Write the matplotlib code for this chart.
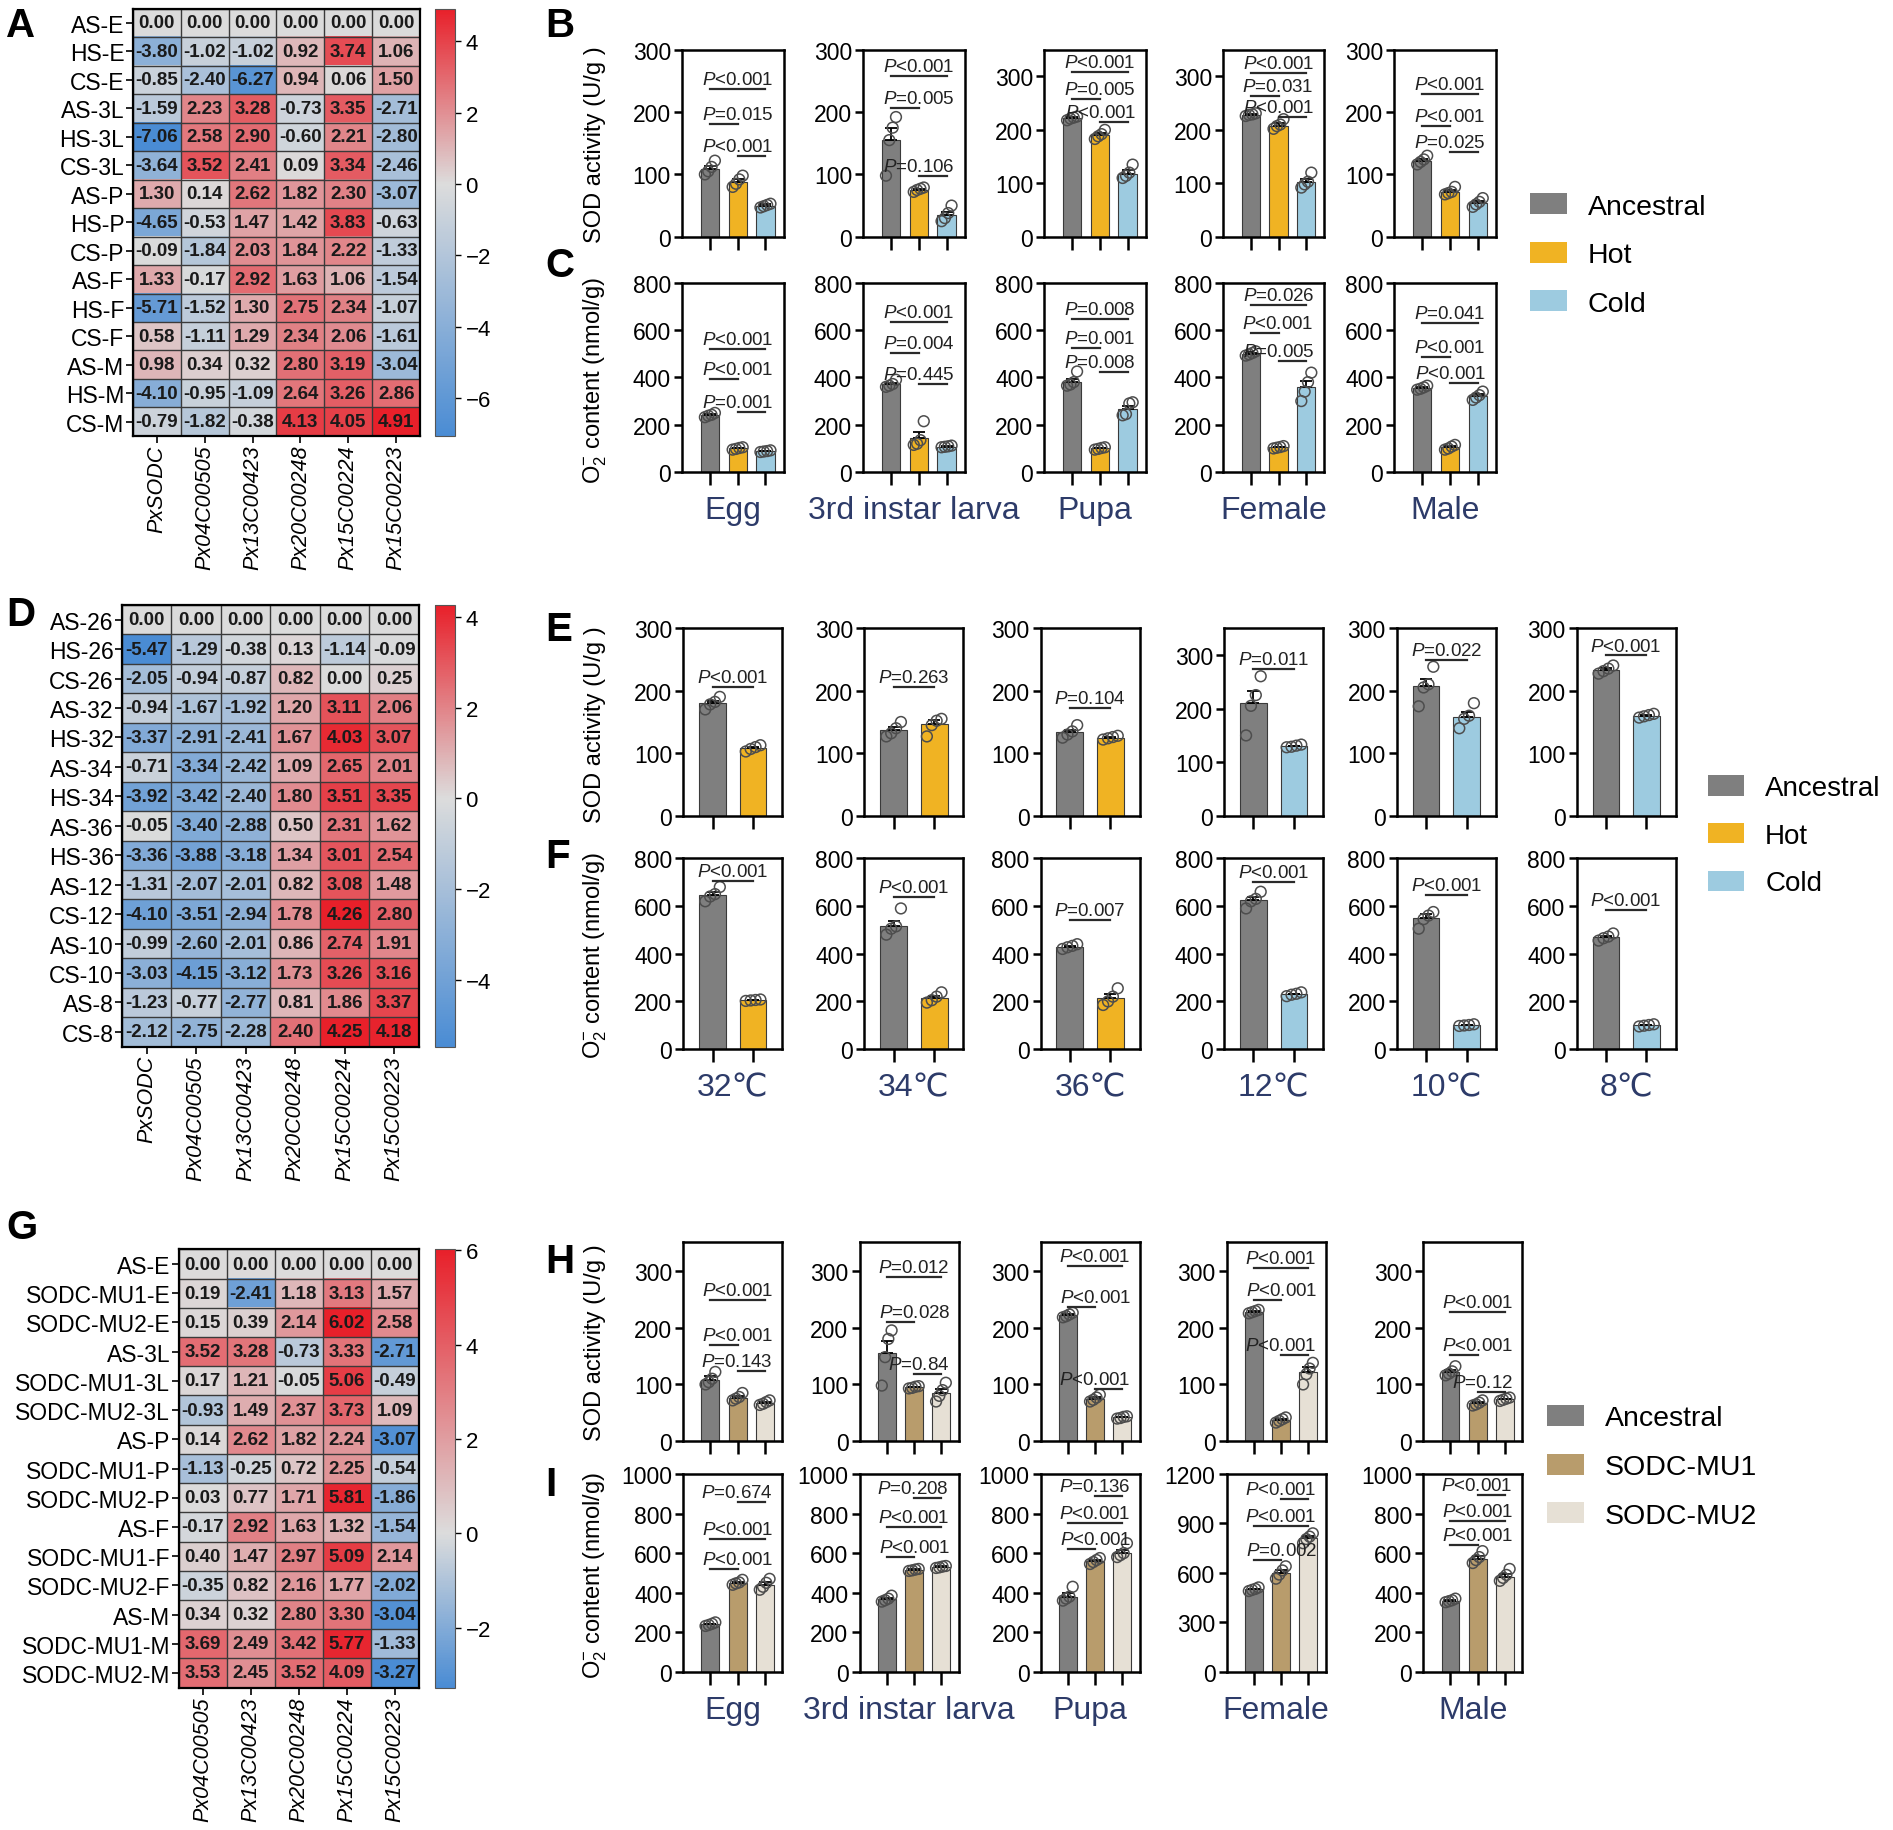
import numpy as np
import matplotlib
matplotlib.use("Agg")
import matplotlib.pyplot as plt
from matplotlib.colors import LinearSegmentedColormap
from matplotlib.patches import Patch

plt.rcParams.update({
    "font.family": ["Liberation Sans", "DejaVu Sans", "Noto Sans CJK SC"],
    "mathtext.fontset": "custom",
    "mathtext.rm": "Liberation Sans",
    "mathtext.it": "Liberation Sans:italic",
    "axes.linewidth": 1.8,
    "xtick.major.width": 1.8,
    "ytick.major.width": 1.8,
})

ANC = "#7f7f7f"
HOT = "#f0b323"
COLD = "#9dcbe0"
MU1 = "#b89c6c"
MU2 = "#e6e0d5"
NAVY = "#2d3b69"
BLUE, MID, RED = "#4a8cd4", "#dcdcdc", "#e8202a"

# ---------------- heatmap data ----------------
genes6 = ["PxSODC", "Px04C00505", "Px13C00423", "Px20C00248", "Px15C00224", "Px15C00223"]
genes5 = genes6[1:]

rows_A = ["AS-E", "HS-E", "CS-E", "AS-3L", "HS-3L", "CS-3L", "AS-P", "HS-P", "CS-P",
          "AS-F", "HS-F", "CS-F", "AS-M", "HS-M", "CS-M"]
vals_A = [
    [0.00, 0.00, 0.00, 0.00, 0.00, 0.00],
    [-3.80, -1.02, -1.02, 0.92, 3.74, 1.06],
    [-0.85, -2.40, -6.27, 0.94, 0.06, 1.50],
    [-1.59, 2.23, 3.28, -0.73, 3.35, -2.71],
    [-7.06, 2.58, 2.90, -0.60, 2.21, -2.80],
    [-3.64, 3.52, 2.41, 0.09, 3.34, -2.46],
    [1.30, 0.14, 2.62, 1.82, 2.30, -3.07],
    [-4.65, -0.53, 1.47, 1.42, 3.83, -0.63],
    [-0.09, -1.84, 2.03, 1.84, 2.22, -1.33],
    [1.33, -0.17, 2.92, 1.63, 1.06, -1.54],
    [-5.71, -1.52, 1.30, 2.75, 2.34, -1.07],
    [0.58, -1.11, 1.29, 2.34, 2.06, -1.61],
    [0.98, 0.34, 0.32, 2.80, 3.19, -3.04],
    [-4.10, -0.95, -1.09, 2.64, 3.26, 2.86],
    [-0.79, -1.82, -0.38, 4.13, 4.05, 4.91],
]

rows_D = ["AS-26", "HS-26", "CS-26", "AS-32", "HS-32", "AS-34", "HS-34", "AS-36", "HS-36",
          "AS-12", "CS-12", "AS-10", "CS-10", "AS-8", "CS-8"]
vals_D = [
    [0.00, 0.00, 0.00, 0.00, 0.00, 0.00],
    [-5.47, -1.29, -0.38, 0.13, -1.14, -0.09],
    [-2.05, -0.94, -0.87, 0.82, 0.00, 0.25],
    [-0.94, -1.67, -1.92, 1.20, 3.11, 2.06],
    [-3.37, -2.91, -2.41, 1.67, 4.03, 3.07],
    [-0.71, -3.34, -2.42, 1.09, 2.65, 2.01],
    [-3.92, -3.42, -2.40, 1.80, 3.51, 3.35],
    [-0.05, -3.40, -2.88, 0.50, 2.31, 1.62],
    [-3.36, -3.88, -3.18, 1.34, 3.01, 2.54],
    [-1.31, -2.07, -2.01, 0.82, 3.08, 1.48],
    [-4.10, -3.51, -2.94, 1.78, 4.26, 2.80],
    [-0.99, -2.60, -2.01, 0.86, 2.74, 1.91],
    [-3.03, -4.15, -3.12, 1.73, 3.26, 3.16],
    [-1.23, -0.77, -2.77, 0.81, 1.86, 3.37],
    [-2.12, -2.75, -2.28, 2.40, 4.25, 4.18],
]

rows_G = ["AS-E", "SODC-MU1-E", "SODC-MU2-E", "AS-3L", "SODC-MU1-3L", "SODC-MU2-3L",
          "AS-P", "SODC-MU1-P", "SODC-MU2-P", "AS-F", "SODC-MU1-F", "SODC-MU2-F",
          "AS-M", "SODC-MU1-M", "SODC-MU2-M"]
vals_G = [
    [0.00, 0.00, 0.00, 0.00, 0.00],
    [0.19, -2.41, 1.18, 3.13, 1.57],
    [0.15, 0.39, 2.14, 6.02, 2.58],
    [3.52, 3.28, -0.73, 3.33, -2.71],
    [0.17, 1.21, -0.05, 5.06, -0.49],
    [-0.93, 1.49, 2.37, 3.73, 1.09],
    [0.14, 2.62, 1.82, 2.24, -3.07],
    [-1.13, -0.25, 0.72, 2.25, -0.54],
    [0.03, 0.77, 1.71, 5.81, -1.86],
    [-0.17, 2.92, 1.63, 1.32, -1.54],
    [0.40, 1.47, 2.97, 5.09, 2.14],
    [-0.35, 0.82, 2.16, 1.77, -2.02],
    [0.34, 0.32, 2.80, 3.30, -3.04],
    [3.69, 2.49, 3.42, 5.77, -1.33],
    [3.53, 2.45, 3.52, 4.09, -3.27],
]
cbticks_A = [-6, -4, -2, 0, 2, 4]
cbticks_D = [-4, -2, 0, 2, 4]
cbticks_G = [-2, 0, 2, 4, 6]

# ---------------- bar data ----------------
stages = ["Egg", "3rd instar larva", "Pupa", "Female", "Male"]
temps = ["32\u2103", "34\u2103", "36\u2103", "12\u2103", "10\u2103", "8\u2103"]

# B: SOD activity, Ancestral / Hot / Cold
B_mean = [[108, 88, 50], [155, 75, 35], [222, 190, 118], [228, 208, 102], [122, 72, 54]]
B_err = [[6, 5, 2], [20, 2, 5], [2, 4, 6], [1, 4, 6], [3, 3, 3]]
B_pts = [
    [[100, 105, 112, 122], [80, 85, 92, 98], [47, 49, 51, 53]],
    [[98, 155, 175, 192], [72, 75, 77, 79], [25, 30, 38, 50]],
    [[218, 221, 223, 225], [183, 188, 192, 200], [110, 114, 120, 135]],
    [[226, 228, 229, 231], [202, 207, 210, 220], [92, 98, 103, 120]],
    [[116, 120, 124, 130], [68, 70, 72, 80], [48, 52, 56, 62]],
]
B_ymax = [300, 300, 350, 350, 300]
B_ptxt = [["P<0.001", "P=0.015", "P<0.001"], ["P<0.001", "P=0.005", "P=0.106"],
          ["P<0.001", "P=0.005", "P<0.001"], ["P<0.001", "P=0.031", "P<0.001"],
          ["P<0.001", "P<0.001", "P=0.025"]]
B_py = [[237, 181, 130], [258, 206, 98], [309, 258, 214], [307, 263, 224], [229, 178, 136]]

# C: O2- content, Ancestral / Hot / Cold
C_mean = [[240, 100, 88], [370, 146, 108], [380, 100, 265], [500, 105, 360], [355, 105, 320]]
C_err = [[5, 3, 2], [8, 22, 2], [15, 3, 15], [5, 2, 25], [4, 4, 8]]
C_pts = [
    [[232, 238, 242, 250], [95, 98, 102, 105], [85, 87, 89, 92]],
    [[360, 365, 372, 390], [115, 120, 135, 215], [105, 107, 109, 112]],
    [[365, 370, 380, 425], [95, 98, 102, 105], [240, 245, 290, 295]],
    [[492, 497, 503, 510], [100, 103, 106, 110], [300, 340, 380, 420]],
    [[348, 352, 358, 365], [95, 100, 108, 115], [305, 315, 325, 340]],
]
C_ptxt = [["P<0.001", "P<0.001", "P=0.001"], ["P<0.001", "P=0.004", "P=0.445"],
          ["P=0.008", "P=0.001", "P=0.008"], ["P=0.026", "P<0.001", "P=0.005"],
          ["P=0.041", "P<0.001", "P<0.001"]]
C_py = [[521, 394, 255], [633, 503, 371], [647, 524, 421], [707, 588, 471], [629, 488, 376]]

# E: SOD activity, Ancestral vs selected line
E_mean = [[180, 108], [137, 147], [134, 125], [210, 130], [207, 158], [233, 160]]
E_err = [[4, 2], [5, 6], [4, 1], [22, 1], [12, 8], [3, 1]]
E_pts = [
    [[170, 178, 182, 190], [103, 107, 110, 113]],
    [[127, 132, 140, 150], [127, 145, 152, 155]],
    [[125, 130, 135, 145], [122, 124, 126, 128]],
    [[150, 205, 225, 260], [128, 129, 131, 133]],
    [[175, 205, 210, 238], [140, 155, 160, 180]],
    [[227, 231, 235, 240], [157, 159, 161, 163]],
]
E_ymax = [300, 300, 300, 350, 300, 300]
E_ptxt = ["P<0.001", "P=0.263", "P=0.104", "P=0.011", "P=0.022", "P<0.001"]
E_py = [206, 206, 173, 274, 249, 256]

# F: O2- content
F_mean = [[645, 205], [515, 215], [430, 215], [625, 230], [550, 100], [470, 100]]
F_err = [[13, 2], [24, 9], [4, 14], [14, 3], [15, 2], [6, 2]]
F_pts = [
    [[620, 640, 650, 680], [202, 204, 206, 208]],
    [[480, 505, 515, 590], [195, 205, 220, 238]],
    [[420, 427, 433, 440], [185, 200, 220, 255]],
    [[590, 620, 630, 660], [222, 228, 232, 238]],
    [[505, 545, 560, 575], [97, 99, 101, 104]],
    [[455, 465, 472, 485], [95, 98, 101, 104]],
]
F_ptxt = ["P<0.001", "P<0.001", "P=0.007", "P<0.001", "P<0.001", "P<0.001"]
F_py = [705, 640, 541, 699, 648, 582]

# H: SOD activity, Ancestral / SODC-MU1 / SODC-MU2
H_mean = [[108, 77, 68], [155, 95, 85], [222, 75, 42], [228, 38, 122], [122, 67, 74]]
H_err = [[6, 3, 2], [22, 1, 7], [2, 3, 1], [1, 2, 8], [4, 2, 1]]
H_pts = [
    [[100, 104, 110, 122], [72, 75, 78, 85], [64, 66, 69, 72]],
    [[98, 148, 180, 195], [93, 94, 96, 97], [70, 80, 90, 103]],
    [[218, 220, 223, 226], [70, 73, 77, 82], [40, 41, 43, 44]],
    [[225, 227, 229, 231], [33, 36, 39, 42], [100, 118, 128, 138]],
    [[116, 119, 123, 132], [63, 65, 68, 72], [71, 73, 75, 77]],
]
H_ptxt = [["P<0.001", "P<0.001", "P=0.143"], ["P=0.012", "P=0.028", "P=0.84"],
          ["P<0.001", "P<0.001", "P<0.001"], ["P<0.001", "P<0.001", "P<0.001"],
          ["P<0.001", "P<0.001", "P=0.12"]]
H_py = [[248, 170, 123], [288, 209, 118], [308, 236, 92], [305, 249, 151], [227, 152, 87]]

# I: O2- content (top line = MU1 vs MU2, middle = Anc vs MU2, bottom = Anc vs MU1)
I_mean = [[240, 450, 440], [368, 515, 530], [380, 560, 600], [500, 600, 810], [360, 570, 480]]
I_err = [[4, 6, 12], [7, 3, 3], [16, 7, 16], [5, 16, 13], [4, 13, 13]]
I_pts = [
    [[232, 237, 243, 250], [440, 447, 452, 465], [415, 430, 450, 470]],
    [[355, 362, 370, 385], [510, 513, 517, 520], [525, 528, 532, 535]],
    [[360, 370, 380, 430], [545, 555, 565, 575], [580, 590, 600, 650]],
    [[490, 497, 503, 512], [565, 590, 615, 640], [780, 805, 820, 840]],
    [[352, 357, 362, 370], [550, 565, 580, 610], [460, 475, 490, 520]],
]
I_ymax = [1000, 1000, 1000, 1200, 1000]
I_ptxt = [["P=0.674", "P<0.001", "P<0.001"], ["P=0.208", "P<0.001", "P<0.001"],
          ["P=0.136", "P<0.001", "P<0.001"], ["P<0.001", "P<0.001", "P=0.002"],
          ["P<0.001", "P<0.001", "P<0.001"]]
I_py = [[859, 669, 522], [876, 734, 580], [890, 754, 619], [1047, 885, 681], [895, 763, 639]]

# ---------------- layout helpers ----------------
W, H = 1568.0, 1517.0
fig = plt.figure(figsize=(18.93, 18.31), dpi=100)


def box(x0, y0, w, h):
    return [x0 / W, 1 - (y0 + h) / H, w / W, h / H]


def heatmap(hbox, cbox, vals, rows, cols, cbticks):
    vals = np.array(vals)
    ax = fig.add_axes(box(*hbox))
    cax = fig.add_axes(box(*cbox))
    vmin, vmax = vals.min(), vals.max()
    f0 = -vmin / (vmax - vmin)
    cmap = LinearSegmentedColormap.from_list("div", [(0, BLUE), (f0, MID), (1, RED)])
    im = ax.imshow(vals, cmap=cmap, vmin=vmin, vmax=vmax, aspect="auto")
    nr, nc = vals.shape
    for i in range(nr):
        for j in range(nc):
            ax.text(j, i, f"{vals[i, j]:.2f}", ha="center", va="center",
                    fontsize=13.5, fontweight="bold", color="#1a1a1a")
    ax.set_xticks(np.arange(-0.5, nc), minor=True)
    ax.set_yticks(np.arange(-0.5, nr), minor=True)
    ax.grid(which="minor", color="#3a3a3a", lw=1.0)
    ax.tick_params(which="minor", length=0)
    ax.set_xticks(range(nc))
    ax.set_xticklabels(cols, rotation=90, style="italic", fontsize=15.5)
    ax.set_yticks(range(nr))
    ax.set_yticklabels(rows, fontsize=16.5)
    ax.tick_params(which="major", length=5, width=1.2, pad=1)
    for s in ax.spines.values():
        s.set_linewidth(1.6)
    cb = fig.colorbar(im, cax=cax)
    cb.set_ticks(cbticks)
    cb.ax.tick_params(labelsize=16, length=4, width=1.0)
    cb.outline.set_linewidth(0.8)
    cb.outline.set_edgecolor("#555555")


OFFS = [-0.18, -0.06, 0.06, 0.18]


def bar_panel(bx, means, errs, pts, colors, ymax, yticks, ptxt, py, pairs, xlabel=None):
    ax = fig.add_axes(box(*bx))
    n = len(means)
    x = np.arange(n)
    ax.bar(x, means, width=0.66, color=colors, edgecolor="#3a3a3a", lw=0.8, zorder=2)
    ax.errorbar(x, means, yerr=[np.zeros(n), errs], fmt="none", ecolor="black",
                elinewidth=1.3, capsize=4, capthick=1.3, zorder=3)
    for xi, p in zip(x, pts):
        ax.scatter(xi + np.array(OFFS), p, s=60, facecolors="none",
                   edgecolors="#4d4d4d", linewidths=1.1, zorder=4)
    for (a, b), txt, yv in zip(pairs, ptxt, py):
        ax.plot([a, b], [yv, yv], color="#2a2a2a", lw=1.6, zorder=5)
        if n == 2 or (a, b) == (0, 2):
            xt, ha = (a + b) / 2, "center"
        elif a == 0:
            xt, ha = a - 0.3, "left"
        else:
            xt, ha = b + 0.3, "right"
        label = "$P$" + txt[1:]
        ax.text(xt, yv + ymax * 0.005, label, ha=ha, va="bottom", fontsize=13.5,
                color="#222222", zorder=6)
    if n == 3:
        ax.set_xlim(-1.0, 2.65)
    else:
        ax.set_xlim(-0.72, 1.72)
    ax.set_ylim(0, ymax)
    ax.set_yticks(yticks)
    ax.set_xticks(x)
    ax.set_xticklabels([])
    ax.tick_params(axis="y", labelsize=16.5, length=6, pad=2)
    ax.tick_params(axis="x", length=9)
    if xlabel:
        ax.set_xlabel(xlabel, fontsize=23, color=NAVY, labelpad=4)
    return ax


def letter(x, y, s):
    fig.text(x / W, 1 - y / H, s, fontsize=29, fontweight="bold", va="top", ha="left")


def ylab(x, y, s):
    fig.text(x / W, 1 - y / H, s, fontsize=17, rotation=90, ha="center", va="center")


# ---------------- heatmaps ----------------
heatmap((110, 8, 238, 354), (360, 8, 17, 354), vals_A, rows_A, genes6, cbticks_A)
heatmap((101, 502, 246, 366), (360, 502, 17, 366), vals_D, rows_D, genes6, cbticks_D)
heatmap((148, 1036, 199, 363), (360, 1036, 17, 363), vals_G, rows_G, genes5, cbticks_G)

# ---------------- B / C ----------------
pairs3 = [(0, 2), (0, 1), (1, 2)]
pairsI = [(1, 2), (0, 2), (0, 1)]
left_BC = [565, 715, 865, 1013, 1155]
for k in range(5):
    bar_panel((left_BC[k], 42, 84, 155), B_mean[k], B_err[k], B_pts[k], [ANC, HOT, COLD],
              B_ymax[k], [0, 100, 200, 300], B_ptxt[k], B_py[k], pairs3)
    bar_panel((left_BC[k], 235, 84, 157), C_mean[k], C_err[k], C_pts[k], [ANC, HOT, COLD],
              800, [0, 200, 400, 600, 800], C_ptxt[k], C_py[k], pairs3, xlabel=stages[k])

# ---------------- E / F ----------------
left_EF = [566, 716, 862, 1014, 1157, 1306]
for k in range(6):
    c2 = HOT if k < 3 else COLD
    bar_panel((left_EF[k], 521, 82, 156), E_mean[k], E_err[k], E_pts[k], [ANC, c2],
              E_ymax[k], [0, 100, 200, 300], [E_ptxt[k]], [E_py[k]], [(0, 1)])
    bar_panel((left_EF[k], 712, 82, 158), F_mean[k], F_err[k], F_pts[k], [ANC, c2],
              800, [0, 200, 400, 600, 800], [F_ptxt[k]], [F_py[k]], [(0, 1)],
              xlabel=temps[k])

# ---------------- H / I ----------------
left_HI = [566, 712, 862, 1016, 1179]
for k in range(5):
    bar_panel((left_HI[k], 1030, 82, 165), H_mean[k], H_err[k], H_pts[k], [ANC, MU1, MU2],
              350, [0, 100, 200, 300], H_ptxt[k], H_py[k], pairs3)
    iticks = [0, 300, 600, 900, 1200] if I_ymax[k] == 1200 else [0, 200, 400, 600, 800, 1000]
    bar_panel((left_HI[k], 1222, 82, 164), I_mean[k], I_err[k], I_pts[k], [ANC, MU1, MU2],
              I_ymax[k], iticks, I_ptxt[k], I_py[k], pairsI, xlabel=stages[k])

# ---------------- labels, legends ----------------
for x, y, s in [(5, 6, "A"), (452, 6, "B"), (452, 205, "C"), (5, 494, "D"), (452, 506, "E"),
                (452, 694, "F"), (5, 1002, "G"), (452, 1030, "H"), (452, 1215, "I")]:
    letter(x, y, s)

ylab(493, 120, "SOD activity (U/g )")
ylab(493, 315, "O$_2^{-}$ content (nmol/g)")
ylab(493, 600, "SOD activity (U/g )")
ylab(493, 792, "O$_2^{-}$ content (nmol/g)")
ylab(493, 1112, "SOD activity (U/g )")
ylab(493, 1305, "O$_2^{-}$ content (nmol/g)")


def legend(x, y, labels, colors, size=20.5):
    handles = [Patch(facecolor=c, edgecolor="none", label=l) for l, c in zip(labels, colors)]
    fig.legend(handles=handles, loc="upper left", bbox_to_anchor=(x / W, 1 - y / H),
               frameon=False, fontsize=size, handlelength=1.3, handleheight=0.75,
               labelspacing=0.78, handletextpad=0.75, borderaxespad=0, borderpad=0)


legend(1267, 161, ["Ancestral", "Hot", "Cold"], [ANC, HOT, COLD])
legend(1415, 643, ["Ancestral", "Hot", "Cold"], [ANC, HOT, COLD], size=20)
legend(1281, 1165, ["Ancestral", "SODC-MU1", "SODC-MU2"], [ANC, MU1, MU2])

fig.savefig("out.png", dpi=100, facecolor="white")
